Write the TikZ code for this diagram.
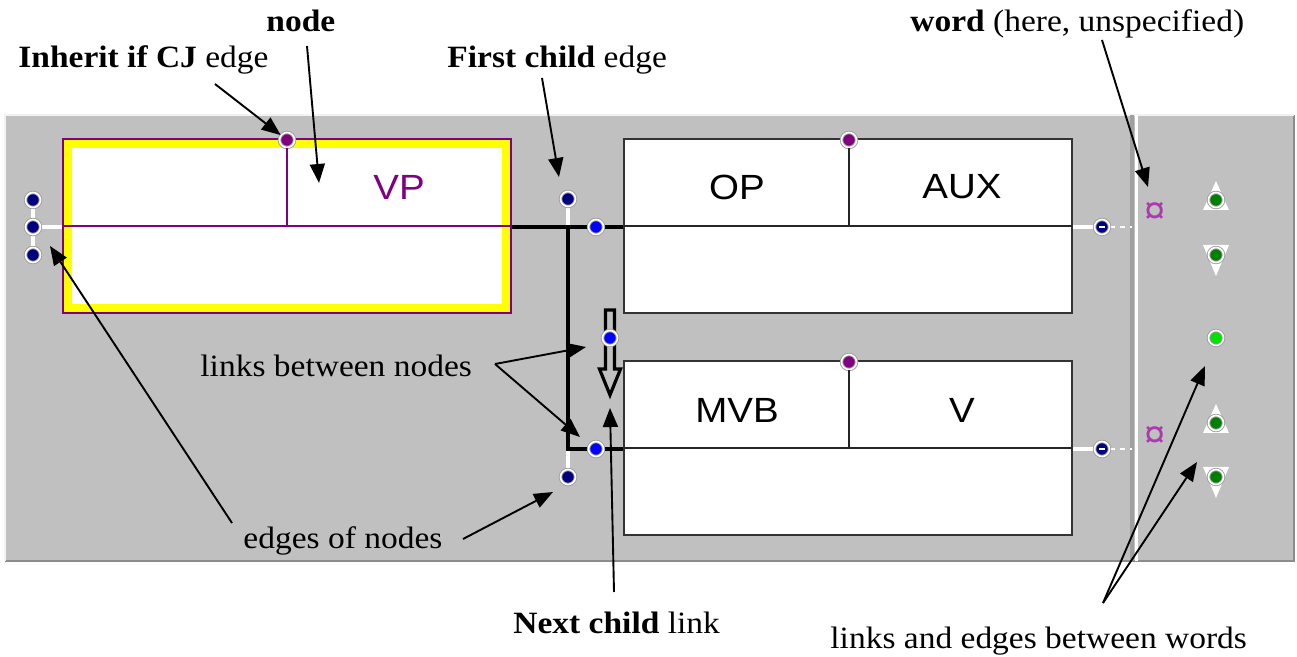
\documentclass[tikz,border=0pt]{standalone}
\usepackage{fontspec}
\setmainfont{Liberation Serif}
\newfontfamily\arialf{Liberation Sans}
\newfontfamily\dejavuf{DejaVu Sans}
\usetikzlibrary{arrows.meta}
\definecolor{panel}{RGB}{192,192,192}
\definecolor{sepgray}{RGB}{160,160,160}
\definecolor{vppurple}{RGB}{128,0,128}
\definecolor{curpurple}{RGB}{170,60,170}
\definecolor{navyb}{RGB}{0,0,128}
\definecolor{blueb}{RGB}{0,0,255}
\definecolor{greend}{RGB}{0,128,0}
\definecolor{greenl}{RGB}{0,225,0}
\definecolor{yel}{RGB}{255,255,0}
\pgfdeclarelayer{bg}
\pgfsetlayers{bg,main}
\begin{document}
\begin{tikzpicture}[x=0.5pt,y=-0.5pt,
  ann/.style={font=\fontsize{15.5}{18}\selectfont, inner sep=0, xscale=1.08, anchor=base west},
  lab/.style={font=\arialf\fontsize{17.5}{20}\selectfont, inner sep=0, xscale=1.1},
  dotn/.style={circle, inner sep=0, minimum size=7.5pt, fill=#1, draw=gray!75, double=white, double distance=0.8pt, line width=0.45pt},
  arr/.style={line width=0.95pt, -{Triangle[length=9.5pt,width=7.5pt]}},
  wlink/.style={white, line width=2pt},
  blink/.style={black, line width=2pt},
  boxline/.style={black!85, line width=0.6pt},
  cbox/.style={draw=black!80, line width=0.9pt, fill=white, minimum width=224pt, minimum height=87pt, inner sep=0, outer sep=0, anchor=north west},
  vpbox/.style={draw=vppurple, line width=1pt, fill=yel, minimum width=224pt, minimum height=87pt, inner sep=0, outer sep=0, anchor=north west},
  cursign/.style={font=\arialf\fontsize{19}{19}\selectfont, text=curpurple, inner sep=0},
]
\useasboundingbox (0,0) rectangle (1297,657);

% ---------- panel ----------
\begin{pgfonlayer}{bg}
\fill[panel] (5,115) rectangle (1294,561);
\draw[black!45, line width=0.6pt] (5,561) -- (1294,561) -- (1294,115);
\draw[white!90!gray, line width=0.6pt] (5,561) -- (5,115) -- (1294,115);
\fill[sepgray] (1130,115) rectangle (1134,561);
\fill[white] (1135,115) rectangle (1138,561);
\end{pgfonlayer}

% ---------- boxes ----------
\node[vpbox] (vp) at (63,139) {};
\fill[white] ([shift={(9,9)}]vp.north west) rectangle ([shift={(-9,-9)}]vp.south east);
\node[cbox] (op) at (624,139) {};
\node[cbox] (mvb) at (624,361) {};

% ---------- dots ----------
\node[dotn=navyb] (e1) at (33,200) {};
\node[dotn=navyb] (e2) at (33,227) {};
\node[dotn=navyb] (e3) at (33,255) {};
\node[dotn=vppurple] (vpt) at (287,140) {};
\node[dotn=navyb] (fc) at (568,199) {};
\node[dotn=blueb] (l1) at (596,227) {};
\node[dotn=blueb] (l2) at (596,449) {};
\node[dotn=navyb] (fc2) at (568,477) {};
\node[dotn=blueb] (nc) at (610,338) {};
\node[dotn=vppurple] (opt) at (849,140) {};
\node[dotn=vppurple] (mvt) at (849,362) {};
\node[dotn=navyb] (r1) at (1102,227) {};
\node[dotn=navyb] (r2) at (1102,449) {};
\draw[white, line width=0.7pt] ([xshift=-1.4pt]r1.center) -- ([xshift=1.4pt]r1.center);
\draw[white, line width=0.7pt] ([xshift=-1.4pt]r2.center) -- ([xshift=1.4pt]r2.center);
\node[dotn=greend] (w1) at (1216,200) {};
\node[dotn=greend] (w2) at (1216,255) {};
\node[dotn=greenl] (w3) at (1216,338) {};
\node[dotn=greend] (w4) at (1216,423) {};
\node[dotn=greend] (w5) at (1216,477) {};

\coordinate (j1) at (568,227);
\coordinate (j2) at (568,449);
\coordinate (s1) at (1132,227);
\coordinate (s2) at (1132,449);

% ---------- inner divisions and labels ----------
\draw[vppurple, line width=0.6pt] (vp.west) -- (vp.east);
\draw[vppurple, line width=0.6pt] (vpt) -- (vpt |- vp.west);
\draw[boxline] (op.west) -- (op.east);
\draw[boxline] (opt) -- (opt |- op.west);
\draw[boxline] (mvb.west) -- (mvb.east);
\draw[boxline] (mvt) -- (mvt |- mvb.west);

\node[lab, text=vppurple] (vpl) at (399,187) {VP};
\node[lab] (opl) at (737,187) {OP};
\node[lab] (auxl) at (962,187) {AUX};
\node[lab] (mvbl) at (737,410) {MVB};
\node[lab] (vl) at (962,410) {V};

\node[cursign] (cur1) at (1155,213) {¤};
\node[cursign] (cur2) at (1155,437) {¤};

% ---------- links (under boxes and dots) ----------
\begin{pgfonlayer}{bg}
\draw[white, line width=1.6pt] (e1.center) -- (e3.center);
\draw[wlink] (e2.center) -- (e2 -| vp.west);
\draw[white, line width=1.6pt] (fc.center) -- (j1);
\draw[white, line width=1.6pt] (j2) -- (fc2.center);
\draw[wlink] (op.east |- r1) -- (r1.center);
\draw[wlink] (mvb.east |- r2) -- (r2.center);
\draw[white, line width=0.9pt, dash pattern=on 2.5pt off 2.5pt] (r1) -- (s1);
\draw[white, line width=0.9pt, dash pattern=on 2.5pt off 2.5pt] (r2) -- (s2);
\draw[blink] (vp.east |- j1) -- (op.west |- j1);
\draw[blink, line join=miter] (j1) -- (j2) -- (mvb.west |- j2);
% next child hollow arrow
\draw[black, line width=1.6pt, fill=panel, line join=miter]
  ([shift={(-4.5,-28)}]nc.center) -- ([shift={(4.5,-28)}]nc.center)
  -- ([shift={(4.5,31)}]nc.center) -- ([shift={(10.5,31)}]nc.center)
  -- ([shift={(0,57)}]nc.center) -- ([shift={(-10.5,31)}]nc.center)
  -- ([shift={(-4.5,31)}]nc.center) -- cycle;
% word triangles
\fill[white] ([shift={(0,-19)}]w1.center) -- ([shift={(13,10)}]w1.center) -- ([shift={(-13,10)}]w1.center) -- cycle;
\fill[white] ([shift={(0,21)}]w2.center) -- ([shift={(13,-10)}]w2.center) -- ([shift={(-13,-10)}]w2.center) -- cycle;
\fill[white] ([shift={(0,-19)}]w4.center) -- ([shift={(13,10)}]w4.center) -- ([shift={(-13,10)}]w4.center) -- cycle;
\fill[white] ([shift={(0,21)}]w5.center) -- ([shift={(13,-10)}]w5.center) -- ([shift={(-13,-10)}]w5.center) -- cycle;
\end{pgfonlayer}

% ---------- annotations ----------
\node[ann] (tnode) at (266,32) {\textbf{node}};
\node[ann] (tinh) at (18,68) {\textbf{Inherit if CJ} edge};
\node[ann] (tfc) at (447,68) {\textbf{First child} edge};
\node[ann] (tword) at (910,32) {\textbf{word} (here, unspecified)};
\node[ann] (tlinks) at (200,377) {links between nodes};
\node[ann] (tedges) at (243,549) {edges of nodes};
\node[ann] (tnext) at (513,633) {\textbf{Next child} link};
\node[ann] (twords) at (830,648) {links and edges between words};

\coordinate (ainh) at (215,84);
\coordinate (anode) at (307,46);
\coordinate (anodet) at (319,183);
\coordinate (afc) at (542,78);
\coordinate (afct) at (559,177);
\coordinate (aword) at (1102,40);
\coordinate (awordt) at (1148,187);
\coordinate (alinks) at (495,364);
\coordinate (alinkst1) at (586,347);
\coordinate (alinkst2) at (580,437);
\coordinate (aedges1) at (232,523);
\coordinate (aedgest1) at (50,246);
\coordinate (aedges2) at (463,539);
\coordinate (aedgest2) at (553,492);
\coordinate (anext) at (614,592);
\coordinate (anextt) at (610,408);
\coordinate (awords) at (1103,603);
\coordinate (awordst1) at (1205,366);
\coordinate (awordst2) at (1197,462);

\draw[arr] (ainh) -- (vpt);
\draw[arr] (anode) -- (anodet);
\draw[arr] (afc) -- (afct);
\draw[arr] (aword) -- (awordt);
\draw[arr] (alinks) -- (alinkst1);
\draw[arr] (alinks) -- (alinkst2);
\draw[arr] (aedges1) -- (aedgest1);
\draw[arr] (aedges2) -- (aedgest2);
\draw[arr] (anext) -- (anextt);
\draw[arr] (awords) -- (awordst1);
\draw[arr] (awords) -- (awordst2);
\end{tikzpicture}
\end{document}
